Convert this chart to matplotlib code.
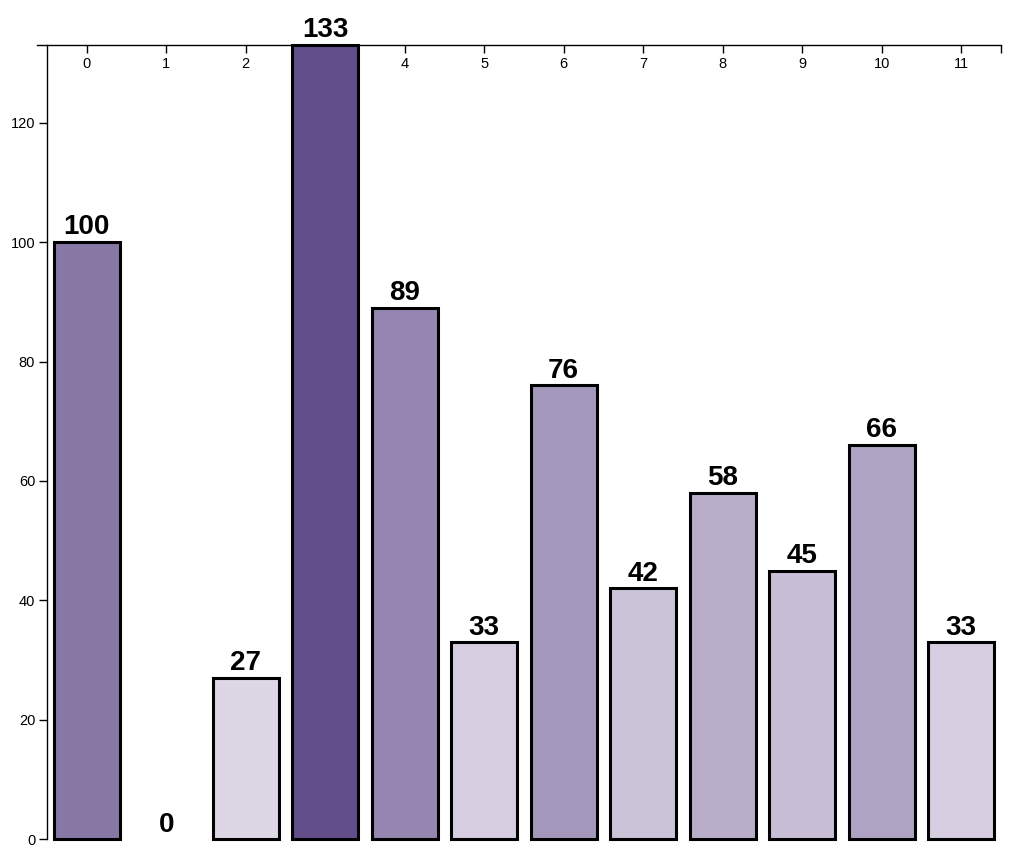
import numpy as np
import matplotlib
matplotlib.use('Agg')
import matplotlib.pyplot as plt
from matplotlib.colors import LinearSegmentedColormap, Normalize

# chart data
categories = list(range(12))
values = [100, 0, 27, 133, 89, 33, 76, 42, 58, 45, 66, 33]
y_ticks = [0, 20, 40, 60, 80, 100, 120]

plt.rcParams['font.family'] = ['Liberation Sans', 'DejaVu Sans']

W, H = 1024, 855
fig = plt.figure(figsize=(W / 100, H / 100), dpi=100)
ax = fig.add_axes([36.7 / W, 15.7 / H, (1001 - 36.7) / W, (839.3 - 45) / H])

cmap = LinearSegmentedColormap.from_list('purp', ['#fcf8fc', '#614e8a'])
norm = Normalize(vmin=0, vmax=max(values))
colors = [cmap(norm(v)) for v in values]
# a zero-height bar shows no outline
edge_widths = [2.2 if v > 0 else 0 for v in values]

ax.bar(categories, values, width=0.83, color=colors, edgecolor='black',
       linewidth=edge_widths, zorder=3, clip_on=False)

for x, v in zip(categories, values):
    ax.annotate(str(v), xy=(x, v), xytext=(0, 5.5), textcoords='offset points',
                ha='center', va='baseline', fontsize=20, fontweight='bold',
                color='black', zorder=4, annotation_clip=False)

ax.set_xlim(-0.629, 11.5)
ax.set_ylim(0, max(values))

# x axis drawn along the top edge, ticks pointing down into the plot
ax.spines['top'].set_visible(False)
ax.spines['right'].set_visible(False)
ax.spines['bottom'].set_position(('axes', 1.0))
ax.spines['left'].set_position(('data', -0.5))
for s in ('bottom', 'left'):
    ax.spines[s].set_linewidth(1.0)

ax.set_xticks(categories)
ax.set_xticklabels([str(c) for c in categories])
ax.set_xticks([11.5], minor=True)
ax.set_yticks(y_ticks)
ax.set_yticklabels([str(t) for t in y_ticks])

ax.tick_params(axis='x', which='both', direction='out', length=6, width=1.0,
               pad=3, labelsize=10.5)
ax.tick_params(axis='y', direction='out', length=5.5, width=1.0, pad=3,
               labelsize=10.5)

fig.savefig('out.png', dpi=100)
